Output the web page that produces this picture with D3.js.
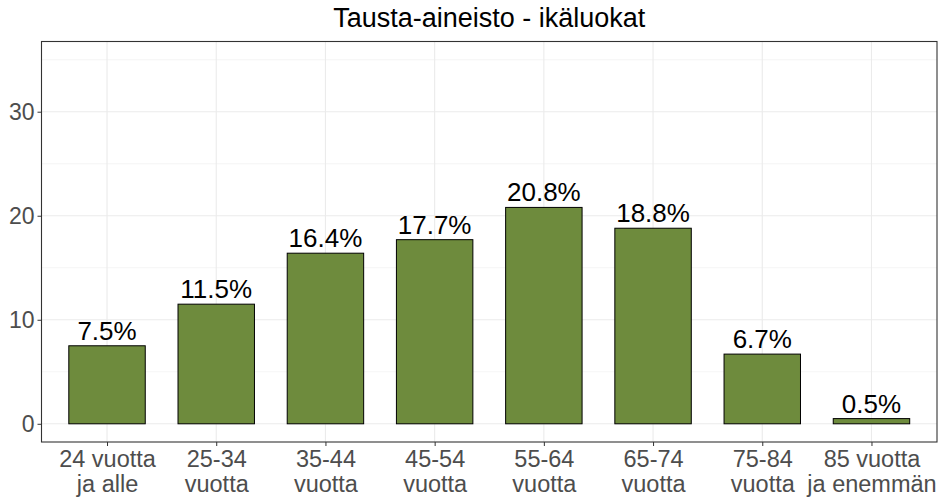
<!DOCTYPE html>
<html>
<head>
<meta charset="utf-8">
<script src="https://cdn.jsdelivr.net/npm/d3@7"></script>
<style>
  body { margin: 0; background: #fff; }
  text { font-family: "Liberation Sans", Arial, sans-serif; }
</style>
</head>
<body>
<svg id="chart" width="943" height="497"></svg>
<script>
// age classes, two-line labels
const categories = ["24 vuotta\nja alle", "25-34\nvuotta", "35-44\nvuotta", "45-54\nvuotta",
                    "55-64\nvuotta", "65-74\nvuotta", "75-84\nvuotta", "85 vuotta\nja enemmän"];
const shares = [7.5, 11.5, 16.4, 17.7, 20.8, 18.8, 6.7, 0.5];
const yTicks = [0, 10, 20, 30];
const yMinor = [5, 15, 25, 35];
const title = "Tausta-aineisto - ikäluokat";

const margin = { top: 41.5, right: 6, bottom: 55, left: 41.5 };
const width = 943, height = 497;

const svg = d3.select("#chart");

// ggplot-like expand: limits 0..35 plus 5%
const y = d3.scaleLinear()
  .domain([-1.75, 36.75])
  .range([height - margin.bottom, margin.top]);

// discrete scale with 0.6 expand on each side
const x = d3.scalePoint()
  .domain(categories)
  .range([margin.left, width - margin.right])
  .padding(0.6);
const step = x.step();
const barW = step * 0.7;

const g = svg.append("g");

// minor grid
g.selectAll("line.minor")
  .data(yMinor)
  .join("line")
  .attr("x1", margin.left).attr("x2", width - margin.right)
  .attr("y1", d => y(d)).attr("y2", d => y(d))
  .attr("stroke", "#f2f2f2").attr("stroke-width", 0.8);

// major grid
g.selectAll("line.major")
  .data(yTicks)
  .join("line")
  .attr("x1", margin.left).attr("x2", width - margin.right)
  .attr("y1", d => y(d)).attr("y2", d => y(d))
  .attr("stroke", "#ebebeb").attr("stroke-width", 1.1);

g.selectAll("line.vgrid")
  .data(categories)
  .join("line")
  .attr("x1", d => x(d)).attr("x2", d => x(d))
  .attr("y1", margin.top).attr("y2", height - margin.bottom)
  .attr("stroke", "#ebebeb").attr("stroke-width", 1.1);

// bars
g.selectAll("rect.bar")
  .data(shares)
  .join("rect")
  .attr("x", (d, i) => x(categories[i]) - barW / 2)
  .attr("width", barW)
  .attr("y", d => y(d))
  .attr("height", d => y(0) - y(d))
  .attr("fill", "#6E8B3D")
  .attr("stroke", "#000")
  .attr("stroke-width", 1);

// value labels
g.selectAll("text.val")
  .data(shares)
  .join("text")
  .attr("x", (d, i) => x(categories[i]))
  .attr("y", d => y(d) - 6)
  .attr("text-anchor", "middle")
  .attr("font-size", 26)
  .attr("fill", "#000")
  .text(d => d.toFixed(1) + "%");

// panel border
svg.append("rect")
  .attr("x", margin.left).attr("y", margin.top)
  .attr("width", width - margin.right - margin.left)
  .attr("height", height - margin.bottom - margin.top)
  .attr("fill", "none")
  .attr("stroke", "#333").attr("stroke-width", 1.1);

// y axis
const yAxis = svg.append("g")
  .attr("transform", `translate(${margin.left},0)`)
  .call(d3.axisLeft(y).tickValues(yTicks).tickSize(4).tickPadding(3));
yAxis.select(".domain").remove();
yAxis.selectAll("line").attr("stroke", "#333");
yAxis.selectAll("text")
  .attr("font-size", 23)
  .attr("fill", "#4d4d4d")
  .style("font-family", "Liberation Sans, Arial, sans-serif");

// x axis
const xAxis = svg.append("g")
  .attr("transform", `translate(0,${height - margin.bottom})`)
  .call(d3.axisBottom(x).tickSize(4).tickFormat(""));
xAxis.select(".domain").remove();
xAxis.selectAll("line").attr("stroke", "#333");

xAxis.selectAll("g.tick")
  .append("text")
  .attr("text-anchor", "middle")
  .attr("font-size", 23.5)
  .attr("fill", "#4d4d4d")
  .style("font-family", "Liberation Sans, Arial, sans-serif")
  .selectAll("tspan")
  .data(d => d.split("\n"))
  .join("tspan")
  .attr("x", 0)
  .attr("y", (d, i) => 25 + i * 25)
  .text(d => d);

// title
svg.append("text")
  .attr("x", (margin.left + width - margin.right) / 2)
  .attr("y", 27)
  .attr("text-anchor", "middle")
  .attr("font-size", 27)
  .attr("fill", "#000")
  .text(title);
</script>
</body>
</html>
